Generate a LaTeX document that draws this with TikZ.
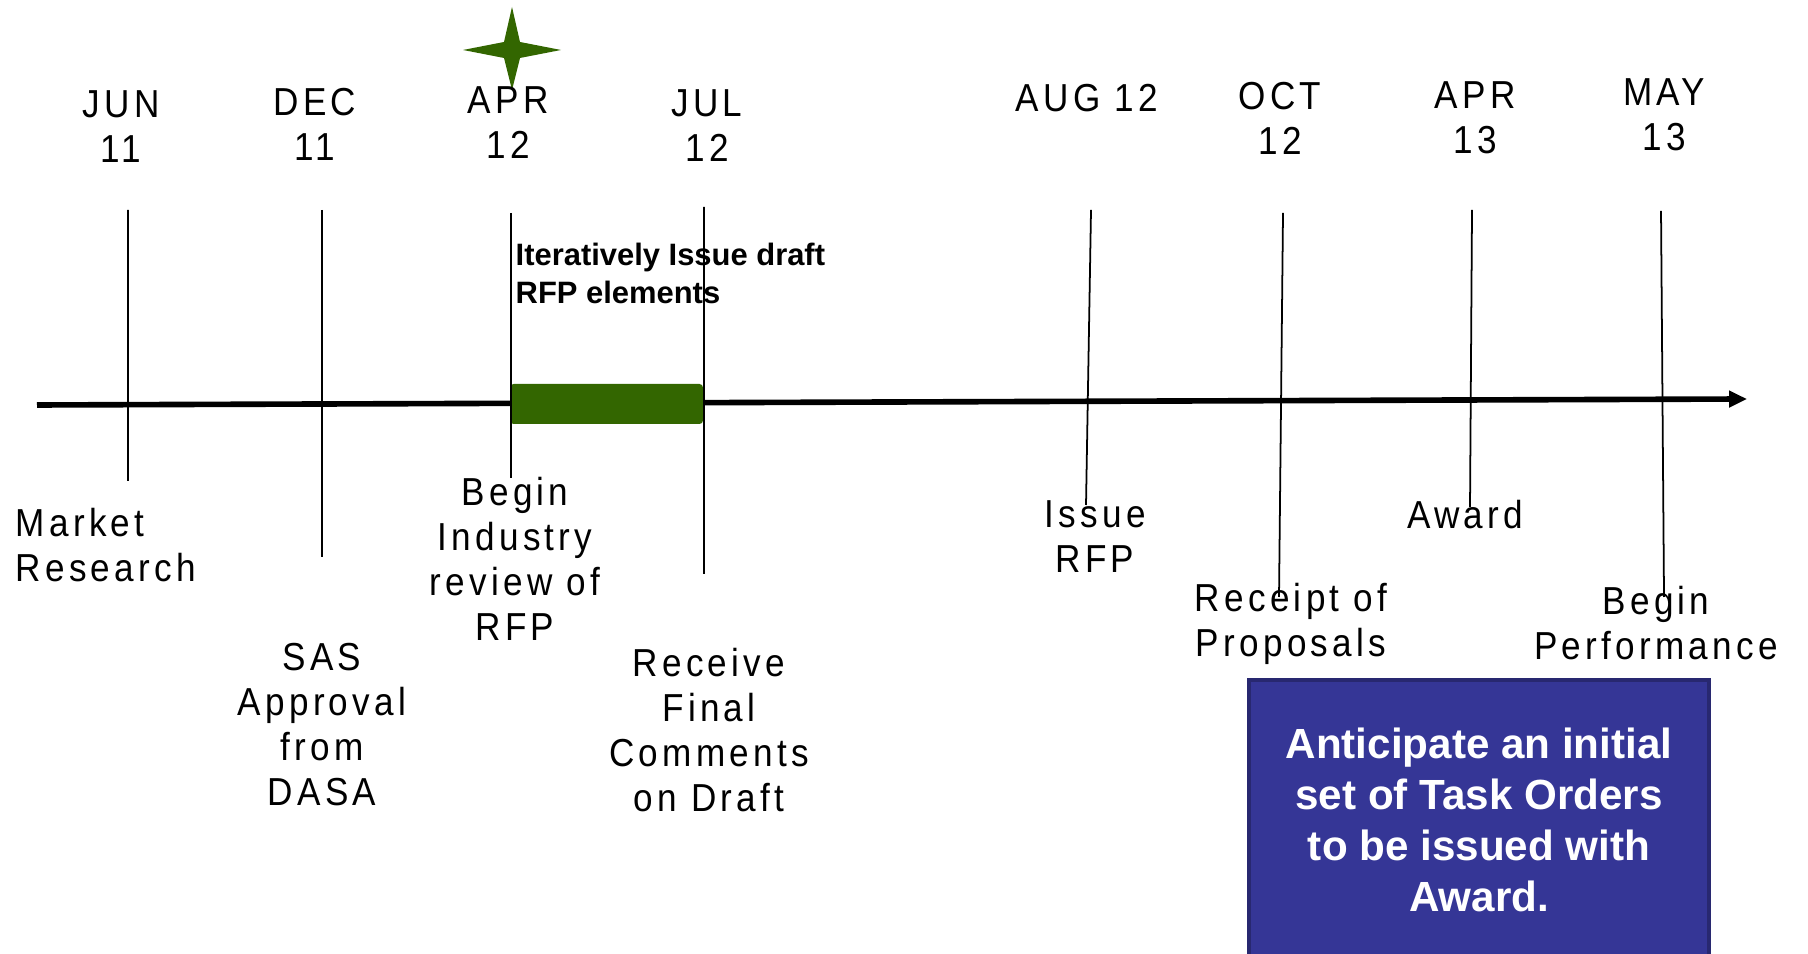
\documentclass[tikz,border=0pt]{standalone}
\usepackage{fontspec}
\usepackage{tikz}
\usepackage{tkz-euclide}
\usetikzlibrary{arrows.meta}
\setmainfont{Liberation Sans}
\newfontfamily\narrowfont[FakeStretch=0.9,LetterSpace=11]{Liberation Sans}
\definecolor{bargreen}{RGB}{51,102,0}
\definecolor{boxblue}{RGB}{53,54,150}
\definecolor{boxedge}{RGB}{40,40,112}
\tikzset{
  datelabel/.style={font=\narrowfont\fontsize{11.1}{12.8}\selectfont, align=center, inner sep=0pt},
  eventlabel/.style={font=\narrowfont\fontsize{11.1}{12.8}\selectfont, align=center, inner sep=0pt},
  tickline/.style={line width=0.5pt},
  boldtick/.style={line width=0.8pt}
}

\begin{document}
\begin{tikzpicture}
    \useasboundingbox (0,0) rectangle (18.08,-9.54);
    % main axis and review bar
    \tkzDefPoint(0.37,-4.05){O}
    \tkzDefPoint(17.47,-3.99){E}
    \draw[line width=1.6pt, -{Triangle[length=0.18cm,width=0.16cm]}] (O) -- (E);
    \fill[bargreen, rounded corners=1pt] (5.10,-3.84) rectangle (7.03,-4.24);
    % star over APR 12
    \fill[bargreen] (5.12,-0.07) -- (5.20,-0.42) -- (5.61,-0.50) -- (5.20,-0.58)
        -- (5.12,-0.90) -- (5.04,-0.58) -- (4.63,-0.50) -- (5.04,-0.42) -- cycle;
    % ticks
    \tkzDefPoint(1.28,-2.10){A1}   \tkzDefPoint(1.28,-4.81){A2}
    \tkzDefPoint(3.22,-2.10){B1}   \tkzDefPoint(3.22,-5.57){B2}
    \tkzDefPoint(5.11,-2.13){C1}   \tkzDefPoint(5.11,-4.78){C2}
    \tkzDefPoint(7.04,-2.07){D1}   \tkzDefPoint(7.04,-5.74){D2}
    \tkzDefPoint(10.91,-2.10){F1}  \tkzDefPoint(10.86,-5.05){F2}
    \tkzDefPoint(12.83,-2.13){G1}  \tkzDefPoint(12.79,-5.97){G2}
    \tkzDefPoint(14.72,-2.10){H1}  \tkzDefPoint(14.70,-5.07){H2}
    \tkzDefPoint(16.61,-2.11){K1}  \tkzDefPoint(16.64,-5.97){K2}
    \draw[tickline] (A1) -- (A2) (D1) -- (D2) (F1) -- (F2) (G1) -- (G2) (H1) -- (H2) (K1) -- (K2);
    \draw[boldtick] (B1) -- (B2) (C1) -- (C2);
    % dates
    \node[datelabel] (jun) at (1.21,-1.27) {JUN\\11};
    \node[datelabel] (dec) at (3.15,-1.24) {DEC\\11};
    \node[datelabel] (apr) at (5.08,-1.23) {APR\\12};
    \node[datelabel] (jul) at (7.07,-1.26) {JUL\\12};
    \node[datelabel] (aug) at (10.87,-0.98) {AUG 12};
    \node[datelabel] (oct) at (12.80,-1.18) {OCT\\12};
    \node[datelabel] (aprb) at (14.75,-1.18) {APR\\13};
    \node[datelabel] (may) at (16.64,-1.145) {MAY\\13};
    % events
    \node[eventlabel, anchor=west, align=left] (market) at (0.15,-5.45) {Market\\Research};
    \node[eventlabel] (sas) at (3.22,-7.245) {SAS\\Approval\\from\\DASA};
    \node[eventlabel] (industry) at (5.15,-5.59) {Begin\\Industry\\review of\\RFP};
    \node[eventlabel] (comments) at (7.09,-7.305) {Receive\\Final\\Comments\\on Draft};
    \node[eventlabel] (issue) at (10.95,-5.37) {Issue\\RFP};
    \node[eventlabel] (receipt) at (12.91,-6.235) {Receipt of\\Proposals};
    \node[eventlabel] (award) at (14.65,-5.15) {Award};
    \node[eventlabel] (perform) at (16.56,-6.235) {Begin\\Performance};
    \node[anchor=west, align=left, inner sep=0pt, font=\bfseries\fontsize{8.8}{10.8}\selectfont]
        (iterate) at (5.15,-2.73) {Iteratively Issue draft\\RFP elements};
    % note box
    \node[fill=boxblue, draw=boxedge, line width=1.2pt, text=white, align=center,
        minimum width=4.60cm, minimum height=2.80cm, font=\bfseries\fontsize{12}{14.5}\selectfont]
        (anticipate) at (14.79,-8.20) {Anticipate an initial\\set of Task Orders\\to be issued with\\Award.};
\end{tikzpicture}
\end{document}
